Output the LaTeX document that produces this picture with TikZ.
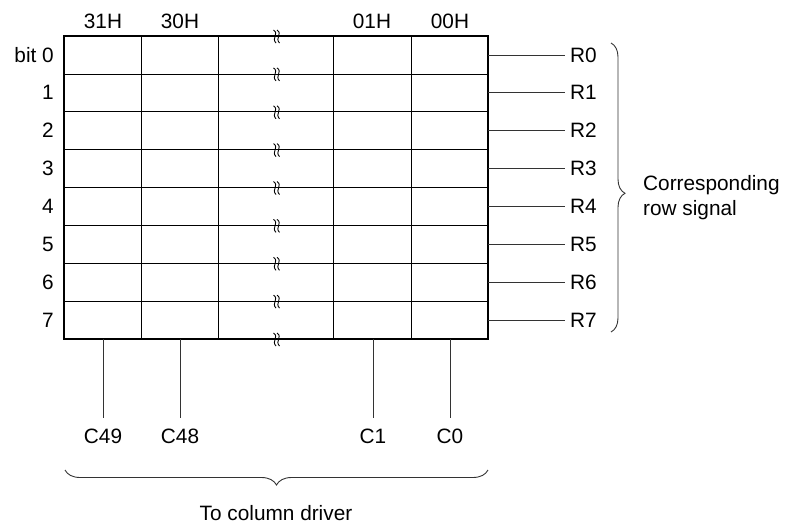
\documentclass[tikz,border=0pt]{standalone}
\usepackage{fontspec}
\setmainfont{Liberation Sans}
\usetikzlibrary{decorations.pathreplacing}
\tikzset{
  cell/.style={line width=0.8pt},
  sig/.style={line width=0.8pt, black!80},
  brk/.style={line width=0.9pt},
  rowlbl/.style={anchor=east, inner sep=3pt},
  rlbl/.style={anchor=west, inner xsep=5pt, inner ysep=0pt},
  clbl/.style={inner xsep=0pt, inner ysep=10.5pt},
  hdr/.style={inner sep=0pt},
  grp/.style={decorate, line width=0.9pt, black!80}
}

\begin{document}
\begin{tikzpicture}[x=1pt, y=-1pt, font=\fontsize{20.8}{24.5}\selectfont]
\useasboundingbox (0,0) rectangle (785,531);
% Cells
    \draw[cell] (64,73.9) -- (488,73.9);
    \draw[cell] (64,111.8) -- (488,111.8);
    \draw[cell] (64,149.6) -- (488,149.6);
    \draw[cell] (64,187.5) -- (488,187.5);
    \draw[cell] (64,225.4) -- (488,225.4);
    \draw[cell] (64,263.3) -- (488,263.3);
    \draw[cell] (64,301.1) -- (488,301.1);
    \draw[cell] (141,36) -- (141,339);
    \draw[cell] (218,36) -- (218,339);
    \draw[cell] (333,36) -- (333,339);
    \draw[cell] (411,36) -- (411,339);
    \node[draw, line width=2pt, minimum width=424pt, minimum height=303pt,
          inner sep=0pt, outer sep=0pt] (grid) at (276,187.5) {};
% Break marks
    \draw[brk] (273.5,30) .. controls (279.5,34) and (271,38) .. (276,43)
               (277,30) .. controls (283,34) and (274.5,38) .. (279.5,43);
    \draw[brk] (273.5,67.9) .. controls (279.5,71.9) and (271,75.9) .. (276,80.9)
               (277,67.9) .. controls (283,71.9) and (274.5,75.9) .. (279.5,80.9);
    \draw[brk] (273.5,105.8) .. controls (279.5,109.8) and (271,113.8) .. (276,118.8)
               (277,105.8) .. controls (283,109.8) and (274.5,113.8) .. (279.5,118.8);
    \draw[brk] (273.5,143.6) .. controls (279.5,147.6) and (271,151.6) .. (276,156.6)
               (277,143.6) .. controls (283,147.6) and (274.5,151.6) .. (279.5,156.6);
    \draw[brk] (273.5,181.5) .. controls (279.5,185.5) and (271,189.5) .. (276,194.5)
               (277,181.5) .. controls (283,185.5) and (274.5,189.5) .. (279.5,194.5);
    \draw[brk] (273.5,219.4) .. controls (279.5,223.4) and (271,227.4) .. (276,232.4)
               (277,219.4) .. controls (283,223.4) and (274.5,227.4) .. (279.5,232.4);
    \draw[brk] (273.5,257.3) .. controls (279.5,261.3) and (271,265.3) .. (276,270.3)
               (277,257.3) .. controls (283,261.3) and (274.5,265.3) .. (279.5,270.3);
    \draw[brk] (273.5,295.1) .. controls (279.5,299.1) and (271,303.1) .. (276,308.1)
               (277,295.1) .. controls (283,299.1) and (274.5,303.1) .. (279.5,308.1);
    \draw[brk] (273.5,333) .. controls (279.5,337) and (271,341) .. (276,346)
               (277,333) .. controls (283,337) and (274.5,341) .. (279.5,346);
% Addresses
    \node[hdr] (h31) at (103,21) {31H};
    \node[hdr] (h30) at (180,21) {30H};
    \node[hdr] (h01) at (372,21) {01H};
    \node[hdr] (h00) at (450,21) {00H};
% Bits
    \node[rowlbl] (b0) at (57,55) {bit 0};
    \node[rowlbl] (b1) at (57,92.8) {1};
    \node[rowlbl] (b2) at (57,130.7) {2};
    \node[rowlbl] (b3) at (57,168.6) {3};
    \node[rowlbl] (b4) at (57,206.5) {4};
    \node[rowlbl] (b5) at (57,244.4) {5};
    \node[rowlbl] (b6) at (57,282.3) {6};
    \node[rowlbl] (b7) at (57,320.1) {7};
% Row signals
    \node[rlbl] (r0) at (565,55) {R0};
    \node[rlbl] (r1) at (565,92.8) {R1};
    \node[rlbl] (r2) at (565,130.7) {R2};
    \node[rlbl] (r3) at (565,168.6) {R3};
    \node[rlbl] (r4) at (565,206.5) {R4};
    \node[rlbl] (r5) at (565,244.4) {R5};
    \node[rlbl] (r6) at (565,282.3) {R6};
    \node[rlbl] (r7) at (565,320.1) {R7};
    \draw[sig] (grid.east |- r0) -- (r0.west);
    \draw[sig] (grid.east |- r1) -- (r1.west);
    \draw[sig] (grid.east |- r2) -- (r2.west);
    \draw[sig] (grid.east |- r3) -- (r3.west);
    \draw[sig] (grid.east |- r4) -- (r4.west);
    \draw[sig] (grid.east |- r5) -- (r5.west);
    \draw[sig] (grid.east |- r6) -- (r6.west);
    \draw[sig] (grid.east |- r7) -- (r7.west);
% Column signals
    \node[clbl] (c49) at (103,436) {C49};
    \node[clbl] (c48) at (180,436) {C48};
    \node[clbl] (c1) at (373,436) {C1};
    \node[clbl] (c0) at (450,436) {C0};
    \draw[sig] (grid.south -| c49) -- (c49.north);
    \draw[sig] (grid.south -| c48) -- (c48.north);
    \draw[sig] (grid.south -| c1) -- (c1.north);
    \draw[sig] (grid.south -| c0) -- (c0.north);
% Braces
    \draw[grp, decoration={brace, amplitude=14pt, aspect=0.52}] (611,43) -- (611,332);
    \node[anchor=west, align=left, inner sep=0pt] (rowsig) at (643,197.5)
        {Corresponding\\row signal};
    \draw[grp, decoration={brace, amplitude=15pt, aspect=0.5}] (488,470) -- (65,470);
    \node[inner sep=0pt] (coldrv) at (276,513) {To column driver};
\end{tikzpicture}
\end{document}
